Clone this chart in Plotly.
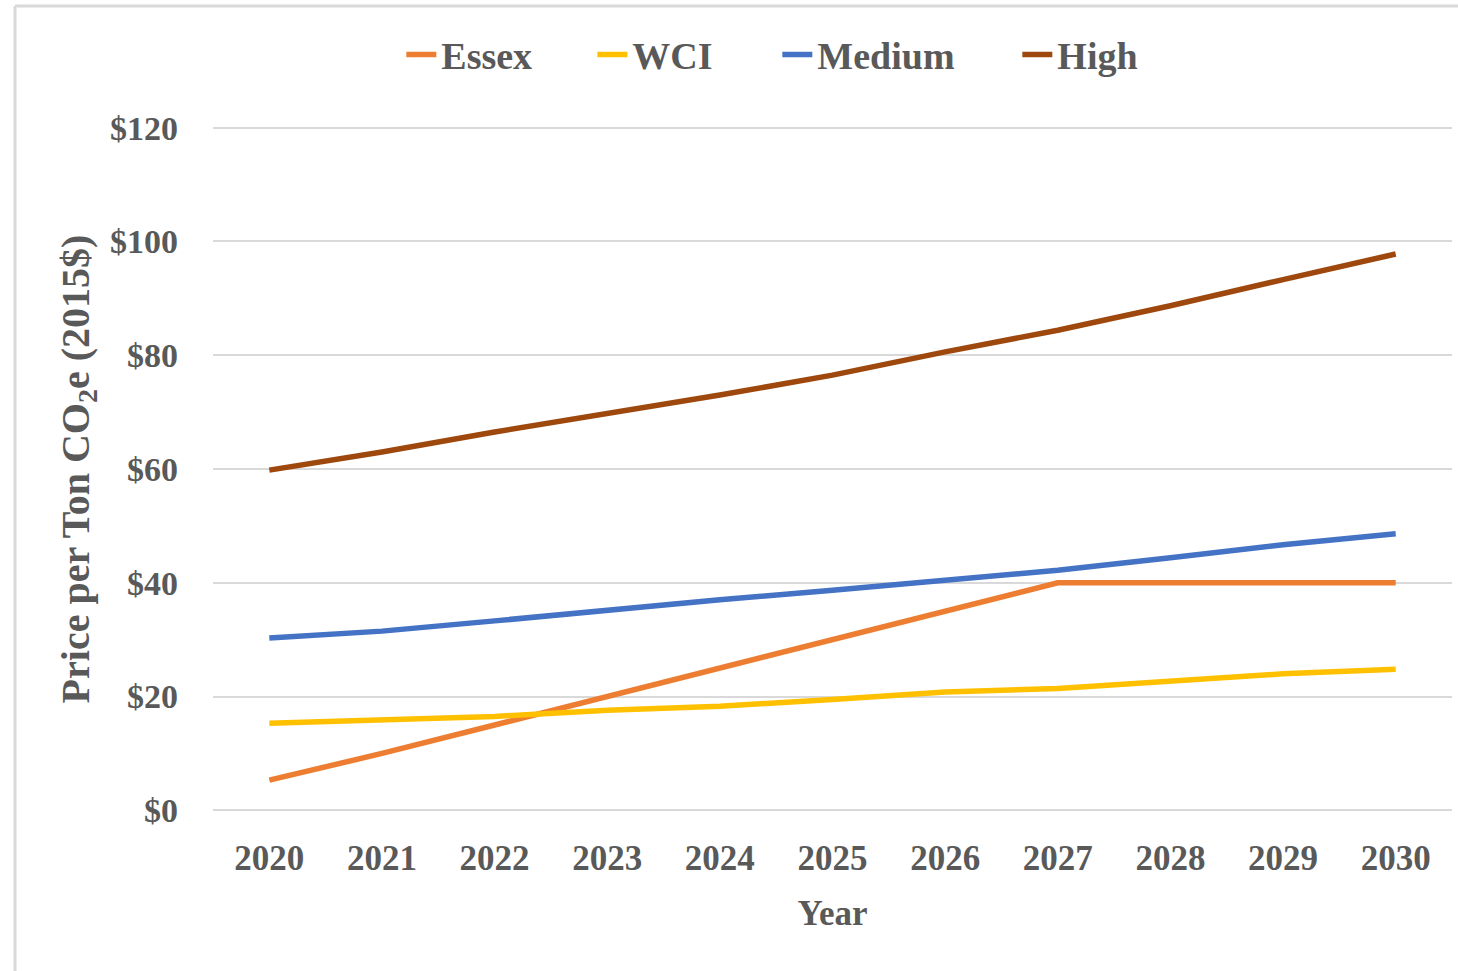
import plotly.graph_objects as go

years = [2020, 2021, 2022, 2023, 2024, 2025, 2026, 2027, 2028, 2029, 2030]
essex = [5.3, 10, 15, 20, 25, 30, 35, 40, 40, 40, 40]
wci = [15.3, 16, 16.5, 17.6, 18.3, 19.5, 20.8, 21.4, 22.7, 24, 24.8]
medium = [30.3, 31.5, 33.3, 35.2, 37, 38.7, 40.5, 42.2, 44.4, 46.7, 48.6]
high = [59.8, 63, 66.5, 69.7, 73, 76.5, 80.6, 84.4, 88.7, 93.3, 97.8]

y_ticks = [0, 20, 40, 60, 80, 100, 120]
y_labels = ["$0", "$20", "$40", "$60", "$80", "$100", "$120"]

series = [
    ("Essex", essex, "#ED7D31", 146),
    ("WCI", wci, "#FFC000", 140),
    ("Medium", medium, "#4472C4", 195),
    ("High", high, "#9E480E", 90),
]

FONT = "Liberation Serif"
TXT = "#595959"

fig = go.Figure()
for name, vals, col, lw in series:
    fig.add_trace(go.Scatter(x=years, y=vals, name=name, mode="lines",
                             line=dict(color=col, width=5.5), legendwidth=lw))

fig.update_layout(
    width=1458, height=971,
    margin=dict(l=213, r=6, t=122, b=155),
    paper_bgcolor="white", plot_bgcolor="white",
    font=dict(family=FONT, color=TXT),
    showlegend=True,
    legend=dict(orientation="h", x=0.152, xanchor="left", y=1.097, yanchor="middle",
                font=dict(family=FONT, size=38, color=TXT, weight="bold"),
                itemwidth=30, tracegroupgap=0, bgcolor="rgba(0,0,0,0)"),
    xaxis=dict(range=[2019.5, 2030.5], tickvals=years, ticktext=[str(y) for y in years],
               showgrid=False, zeroline=False, showline=False, ticks="",
               tickfont=dict(family=FONT, size=35, color=TXT, weight="bold"),
               ticklabelstandoff=18,
               title=dict(text="Year", font=dict(family=FONT, size=35, color=TXT, weight="bold"),
                          standoff=23)),
    yaxis=dict(range=[-1, 121], tickvals=y_ticks, ticktext=y_labels,
               showgrid=True, gridcolor="#D9D9D9", gridwidth=2,
               zeroline=False, showline=False, ticks="",
               tickfont=dict(family=FONT, size=34, color=TXT, weight="bold"),
               ticklabelstandoff=34,
               title=dict(text="Price per Ton CO<sub>2</sub>e (2015$)",
                          font=dict(family=FONT, size=40, color=TXT, weight="bold"),
                          standoff=8)),
)

border = "#D9D9D9"
# outer chart frame (left and top edges)
fig.add_shape(type="line", xref="paper", yref="paper", x0=-0.1598, x1=-0.1598, y0=-0.3, y1=1.167,
              line=dict(color=border, width=3))
fig.add_shape(type="line", xref="paper", yref="paper", x0=-0.1598, x1=1.1, y0=1.167, y1=1.167,
              line=dict(color=border, width=3))

fig.write_html("out.html", config={"displayModeBar": False},
               post_script="document.body.style.margin='0';")
